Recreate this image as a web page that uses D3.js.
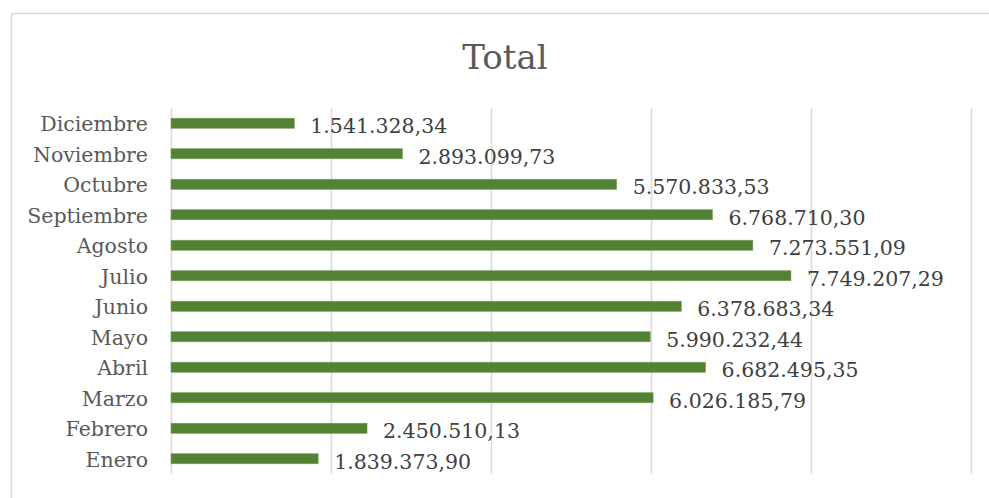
<!DOCTYPE html>
<html><head><meta charset="utf-8">
<script src="https://cdn.jsdelivr.net/npm/d3@7"></script>
<style>body{margin:0;background:#fff}svg{display:block}</style>
</head><body>
<svg id="c" width="989" height="498"></svg>
<script>
const months = ["Enero","Febrero","Marzo","Abril","Mayo","Junio","Julio","Agosto","Septiembre","Octubre","Noviembre","Diciembre"];
const values = [1839373.90,2450510.13,6026185.79,6682495.35,5990232.44,6378683.34,7749207.29,7273551.09,6768710.30,5570833.53,2893099.73,1541328.34];
const labels = ["1.839.373,90","2.450.510,13","6.026.185,79","6.682.495,35","5.990.232,44","6.378.683,34","7.749.207,29","7.273.551,09","6.768.710,30","5.570.833,53","2.893.099,73","1.541.328,34"];
const xTicks = [0,2000000,4000000,6000000,8000000,10000000];
const title = "Total";

const svg = d3.select("#c");
svg.append("rect").attr("x",11.5).attr("y",13.5).attr("width",1000).attr("height",500)
  .attr("fill","#fff").attr("stroke","#d9d9d9").attr("stroke-width",1.5);

const x = d3.scaleLinear().domain([0,10000000]).range([171,971]);
const order = months.slice().reverse();
const y = d3.scaleBand().domain(order).range([108,474]).paddingInner(0.67).paddingOuter(0.335);

svg.append("text").attr("x",505).attr("y",69).attr("text-anchor","middle")
  .attr("font-family","DejaVu Serif").attr("font-size",34).attr("fill","#595959").text(title);

svg.append("g").selectAll("line").data(xTicks).join("line")
  .attr("x1",d=>Math.round(x(d))+0.5).attr("x2",d=>Math.round(x(d))+0.5)
  .attr("y1",108).attr("y2",474).attr("stroke","#d9d9d9").attr("stroke-width",1.5);

const data = months.map((m,i)=>({m,v:values[i],l:labels[i]}));

svg.append("g").selectAll("rect").data(data).join("rect")
  .attr("x",x(0)).attr("y",d=>y(d.m)).attr("width",d=>x(d.v)-x(0)).attr("height",y.bandwidth())
  .attr("fill","#548235").attr("stroke","#7aa05a").attr("stroke-width",0.6);

svg.append("g").selectAll("text").data(data).join("text")
  .attr("x",148).attr("y",d=>y(d.m)+y.bandwidth()/2+1).attr("dy","0.35em")
  .attr("text-anchor","end").attr("font-family","DejaVu Serif").attr("font-size",20.5)
  .attr("fill","#595959").text(d=>d.m);

svg.append("g").selectAll("text").data(data).join("text")
  .attr("x",d=>x(d.v)+16).attr("y",d=>y(d.m)+y.bandwidth()/2+3).attr("dy","0.35em")
  .attr("font-family","DejaVu Serif").attr("font-size",20.5)
  .attr("fill","#404040").text(d=>d.l);
</script>
</body></html>
